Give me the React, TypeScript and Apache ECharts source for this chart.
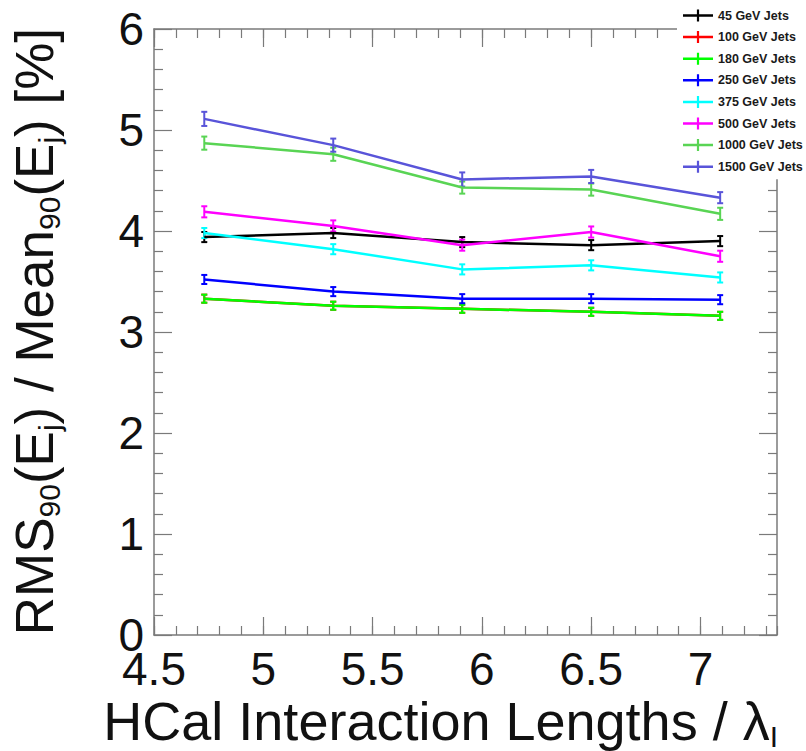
import React, { useEffect, useRef } from "react";
import * as echarts from "echarts";

// ---- data ----
const lambdaValues = [4.73, 5.32, 5.91, 6.5, 7.09];
const jetLabels = [
  "45 GeV Jets",
  "100 GeV Jets",
  "180 GeV Jets",
  "250 GeV Jets",
  "375 GeV Jets",
  "500 GeV Jets",
  "1000 GeV Jets",
  "1500 GeV Jets",
];
const jetColors = ["#000000", "#ff0000", "#00ff00", "#0000ff", "#00ffff", "#ff00ff", "#59d454", "#5954d9"];

const res45 = [3.94, 3.98, 3.89, 3.86, 3.9];
const res100 = [3.33, 3.26, 3.23, 3.2, 3.16];
const res180 = [3.33, 3.26, 3.23, 3.2, 3.16];
const res250 = [3.52, 3.4, 3.33, 3.33, 3.32];
const res375 = [3.98, 3.82, 3.62, 3.66, 3.54];
const res500 = [4.19, 4.05, 3.86, 3.99, 3.75];
const res1000 = [4.87, 4.76, 4.43, 4.41, 4.17];
const res1500 = [5.11, 4.85, 4.51, 4.54, 4.33];

const err45 = [0.05, 0.05, 0.05, 0.05, 0.05];
const err100 = [0.04, 0.04, 0.04, 0.04, 0.04];
const err180 = [0.04, 0.04, 0.04, 0.04, 0.04];
const err250 = [0.045, 0.045, 0.045, 0.045, 0.045];
const err375 = [0.05, 0.05, 0.05, 0.05, 0.05];
const err500 = [0.055, 0.055, 0.055, 0.055, 0.055];
const err1000 = [0.065, 0.065, 0.06, 0.06, 0.06];
const err1500 = [0.07, 0.065, 0.07, 0.065, 0.055];

const resolutions = [res45, res100, res180, res250, res375, res500, res1000, res1500];
const errors = [err45, err100, err180, err250, err375, err500, err1000, err1500];

const xTicksMajor = 0.5;
const xTicksMinor = 0.1;
const xMin = 4.5;
const xMax = 7.35;
const yMin = 0;
const yMax = 6;

const FONT = "Liberation Sans, Arial, Helvetica, sans-serif";
const FRAME = "#7a7a7a";

export default function App() {
  const ref = useRef<HTMLDivElement>(null);

  useEffect(() => {
    if (!ref.current) return;
    const chart = echarts.init(ref.current, undefined, { renderer: "svg" });

    const mkX = (position: "top" | "bottom", minor: boolean, labels: boolean) => ({
      type: "value",
      position,
      min: xMin,
      max: xMax,
      interval: minor ? xTicksMinor : xTicksMajor,
      axisLine: { show: !minor, onZero: false, lineStyle: { color: FRAME, width: 1.5 } },
      axisTick: { show: true, inside: true, length: minor ? 9 : 18, lineStyle: { color: FRAME, width: 1.2 } },
      axisLabel: labels
        ? {
            show: true,
            fontSize: 46,
            lineHeight: 34,
            fontFamily: FONT,
            color: "#111",
            margin: 17,
            showMaxLabel: false,
            showMinLabel: true,
          }
        : { show: false },
      splitLine: { show: false },
    });

    const mkY = (position: "left" | "right", labels: boolean) => ({
      type: "value",
      position,
      min: yMin,
      max: yMax,
      interval: 1,
      axisLine: { show: true, onZero: false, lineStyle: { color: FRAME, width: 1.5 } },
      axisTick: { show: true, inside: true, length: 18, lineStyle: { color: FRAME, width: 1.2 } },
      minorTick: { show: true, splitNumber: 5, length: 9, lineStyle: { color: FRAME, width: 1.2 } },
      axisLabel: labels
        ? { show: true, fontSize: 46, lineHeight: 34, fontFamily: FONT, color: "#111", margin: 10 }
        : { show: false },
      splitLine: { show: false },
      minorSplitLine: { show: false },
    });

    const series: any[] = [];
    jetLabels.forEach((name, i) => {
      const color = jetColors[i];
      series.push({
        name,
        type: "line",
        xAxisIndex: 0,
        yAxisIndex: 0,
        color,
        showSymbol: false,
        symbol: "none",
        lineStyle: { color, width: 2.5 },
        itemStyle: { color },
        data: lambdaValues.map((x, k) => [x, resolutions[i][k]]),
      });
      series.push({
        name: name + " err",
        type: "custom",
        xAxisIndex: 0,
        yAxisIndex: 0,
        encode: { x: 0, y: 1 },
        data: lambdaValues.map((x, k) => [x, resolutions[i][k], errors[i][k]]),
        renderItem: (params: any, api: any) => {
          const x = api.value(0);
          const y = api.value(1);
          const e = api.value(2);
          const t = api.coord([x, y + e]);
          const b = api.coord([x, y - e]);
          const st = { stroke: color, lineWidth: 2 };
          return {
            type: "group",
            children: [
              { type: "line", shape: { x1: t[0], y1: t[1], x2: b[0], y2: b[1] }, style: st },
              { type: "line", shape: { x1: t[0] - 3, y1: t[1], x2: t[0] + 3, y2: t[1] }, style: st },
              { type: "line", shape: { x1: b[0] - 3, y1: b[1], x2: b[0] + 3, y2: b[1] }, style: st },
            ],
          };
        },
      });
    });

    const mkRich = (main: number) => ({
      m: { fontSize: main, lineHeight: 60, fontFamily: FONT, fill: "#111", verticalAlign: "middle" },
      s: { fontSize: 30, lineHeight: 6, fontFamily: FONT, fill: "#111", verticalAlign: "bottom" },
    });

    const option: any = {
      animation: false,
      backgroundColor: "#ffffff",
      grid: { left: 154, right: 29, top: 29, bottom: 116, containLabel: false },
      xAxis: [mkX("bottom", false, true), mkX("top", false, false), mkX("bottom", true, false), mkX("top", true, false)],
      yAxis: [mkY("left", true), mkY("right", false)],
      legend: {
        data: jetLabels,
        orient: "vertical",
        left: 677,
        top: 0,
        padding: [9, 8, 6, 6],
        backgroundColor: "#ffffff",
        itemWidth: 30,
        itemHeight: 12,
        itemGap: 8.6,
        selectedMode: false,
        icon: "path://M0,4.75h30v2.5h-30z M13.9,0h2.2v12h-2.2z",
        textStyle: { fontFamily: FONT, fontWeight: "bold", fontSize: 12.5, lineHeight: 12, color: "#1a1a1a" },
      },
      graphic: [
        {
          type: "text",
          x: 778,
          y: 691,
          z: 10,
          style: {
            text: "{m|HCal Interaction Lengths / λ}{s|I}",
            align: "right",
            verticalAlign: "top",
            fill: "#111",
            rich: mkRich(54),
          },
        },
        {
          type: "text",
          x: 4,
          y: 28,
          rotation: Math.PI / 2,
          z: 10,
          style: {
            text: "{m|RMS}{s|90}{m|(E}{s|j}{m|) / Mean}{s|90}{m|(E}{s|j}{m|) [%]}",
            align: "right",
            verticalAlign: "top",
            fill: "#111",
            rich: mkRich(53),
          },
        },
      ],
      series,
    };

    chart.setOption(option);
    return () => chart.dispose();
  }, []);

  return <div ref={ref} style={{ position: "absolute", left: 0, top: 0, width: 806, height: 751 }} />;
}
